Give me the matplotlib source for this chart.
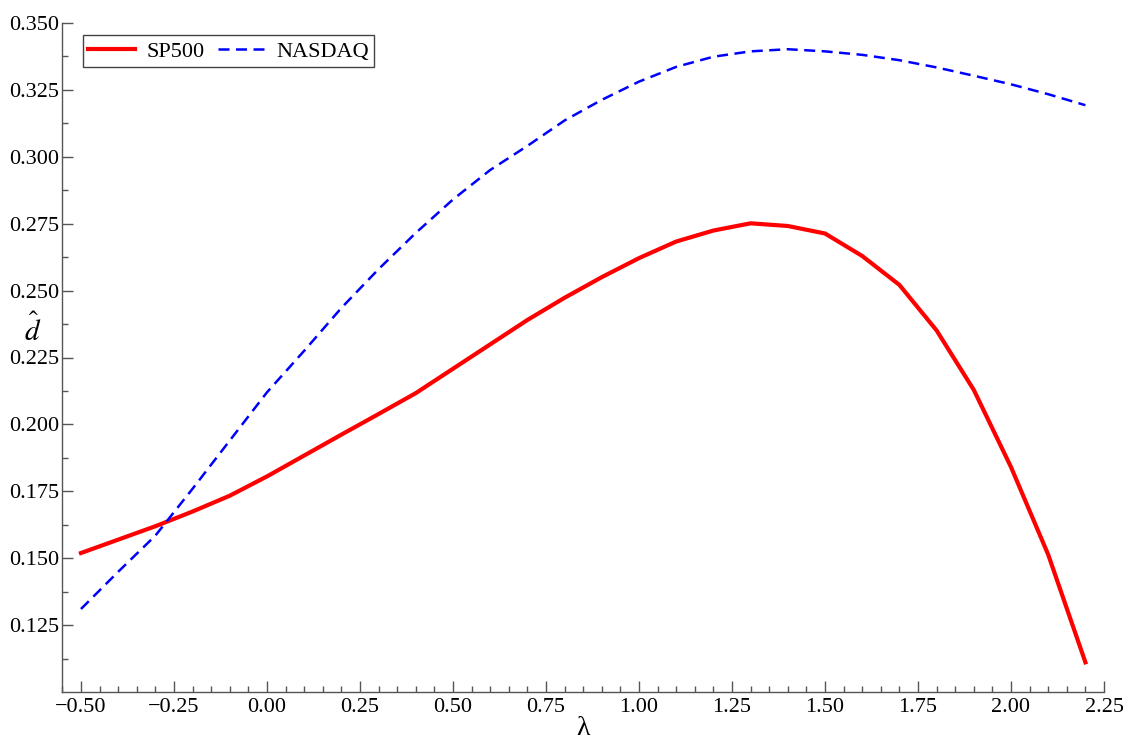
import matplotlib
matplotlib.use("Agg")
import matplotlib.pyplot as plt
from matplotlib.ticker import MultipleLocator, FixedLocator, FuncFormatter

plt.rcParams['font.family'] = ['Liberation Serif', 'DejaVu Serif']
plt.rcParams['mathtext.fontset'] = 'stix'

lam = [-0.5, -0.4, -0.3, -0.2, -0.1, 0.0, 0.1, 0.2, 0.3, 0.4, 0.5, 0.6, 0.7,
       0.8, 0.9, 1.0, 1.1, 1.2, 1.3, 1.4, 1.5, 1.6, 1.7, 1.8, 1.9, 2.0, 2.1, 2.2]
sp500 = [0.152, 0.157, 0.162, 0.1675, 0.1734, 0.1806, 0.1884, 0.1962, 0.2039,
         0.2117, 0.2208, 0.2299, 0.239, 0.2473, 0.255, 0.2621, 0.2683, 0.2724,
         0.2751, 0.2741, 0.2713, 0.2629, 0.2521, 0.2351, 0.2129, 0.1841, 0.1514, 0.1112]
nasdaq = [0.1311, 0.145, 0.1585, 0.176, 0.194, 0.212, 0.2275, 0.2435, 0.258,
          0.2715, 0.284, 0.295, 0.304, 0.3135, 0.3212, 0.328, 0.3335, 0.3373,
          0.3393, 0.3401, 0.3393, 0.338, 0.336, 0.3333, 0.3302, 0.327, 0.3233, 0.3192]

xticks = [-0.50, -0.25, 0.00, 0.25, 0.50, 0.75, 1.00, 1.25, 1.50, 1.75, 2.00, 2.25]
yticks = [0.125, 0.150, 0.175, 0.200, 0.225, 0.250, 0.275, 0.300, 0.325, 0.350]

fig = plt.figure(figsize=(11.26, 7.43), dpi=100)
ax = fig.add_axes([62/1126, 1 - 692.3/743, (1104 - 62)/1126, (692.3 - 22.7)/743])

ax.plot(lam, sp500, color=(1, 0, 0), lw=3.0, label='SP500')
ax.plot(lam, nasdaq, color=(0, 0, 1), lw=1.8, dashes=(4.4, 2.6), label='NASDAQ')

ax.set_xlim(-0.551, 2.25)
ax.set_ylim(0.100, 0.350)

def fmt(n):
    return FuncFormatter(lambda v, p: (f'{v:.{n}f}').replace('-', '\u2212'))

ax.xaxis.set_major_locator(FixedLocator(xticks))
ax.xaxis.set_minor_locator(MultipleLocator(0.05))
ax.yaxis.set_major_locator(FixedLocator(yticks))
ax.yaxis.set_minor_locator(FixedLocator([0.1125 + 0.025 * i for i in range(10)]))
ax.xaxis.set_major_formatter(fmt(2))
ax.yaxis.set_major_formatter(fmt(3))

for s in ['top', 'right']:
    ax.spines[s].set_visible(False)
for s in ['left', 'bottom']:
    ax.spines[s].set_color('#555555')
    ax.spines[s].set_linewidth(1.0)

ax.tick_params(which='both', direction='in', color='#555555', width=1.0,
               labelsize=16, labelcolor='black')
ax.tick_params(which='major', length=8, pad=2)
ax.tick_params(which='minor', length=4)
ax.tick_params(axis='x', which='major', pad=4)

ax.text(-0.028, 0.541, r'$\hat{d}$', transform=ax.transAxes, fontsize=21,
        ha='center', va='center')
ax.text(0.5, -0.054, 'λ', transform=ax.transAxes, fontsize=20,
        ha='center', va='center')

leg = ax.legend(loc='upper left', ncol=2, fontsize=16, frameon=True, fancybox=False,
                edgecolor='#444444', framealpha=1, borderpad=0.25, handlelength=2.1,
                handletextpad=0.5, columnspacing=0.63, borderaxespad=0.0,
                bbox_to_anchor=(0.02, 0.981))
leg.get_frame().set_linewidth(1.0)

fig.savefig('out.png', dpi=100)
